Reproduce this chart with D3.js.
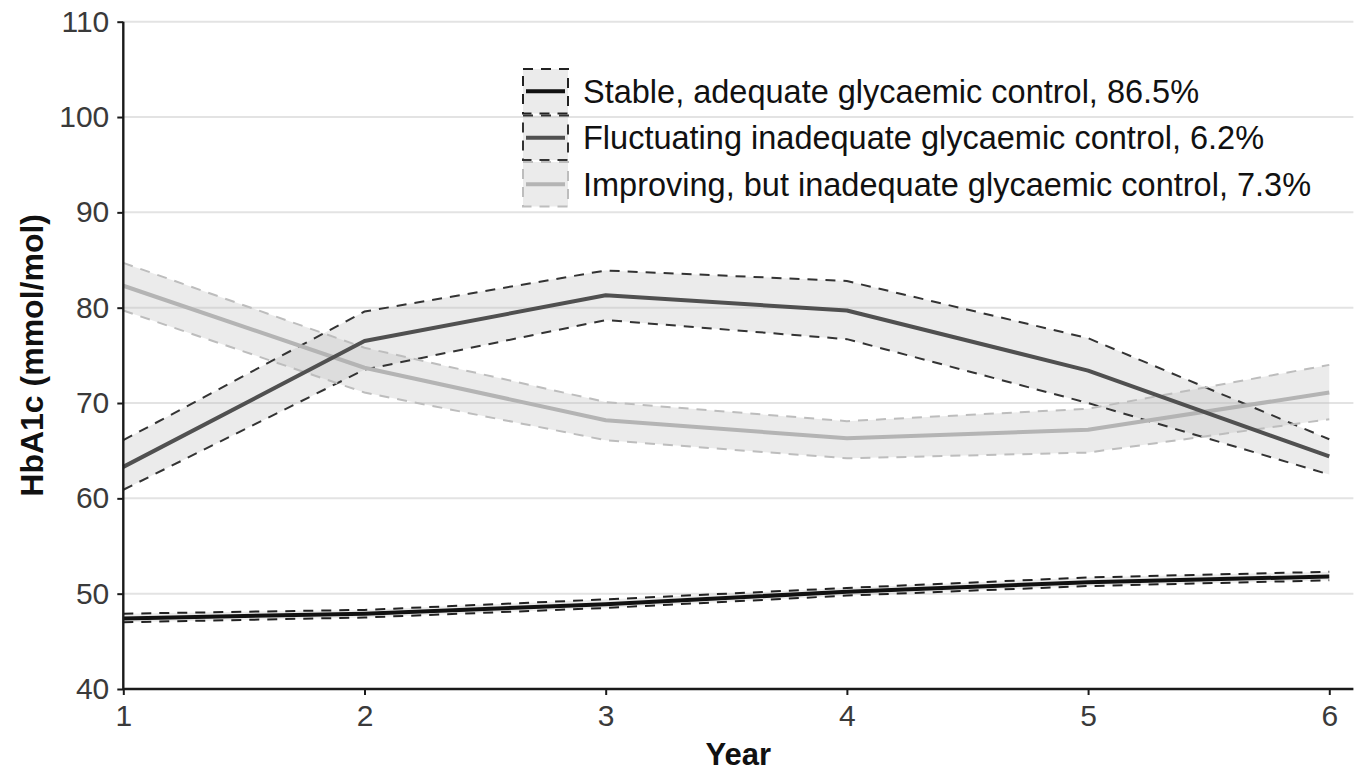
<!DOCTYPE html>
<html>
<head>
<meta charset="utf-8">
<script src="https://cdn.jsdelivr.net/npm/d3@7"></script>
<style>
  html, body { margin: 0; padding: 0; background: #fff; }
  svg { display: block; font-family: "Liberation Sans", Arial, sans-serif; }
</style>
</head>
<body>
<svg id="chart" width="1361" height="771"></svg>
<script>
// ---- data ----
const years = [1, 2, 3, 4, 5, 6];
const yTicks = [40, 50, 60, 70, 80, 90, 100, 110];
const xTicks = [1, 2, 3, 4, 5, 6];

const seriesNames = [
  "Stable, adequate glycaemic control, 86.5%",
  "Fluctuating inadequate glycaemic control, 6.2%",
  "Improving, but inadequate glycaemic control, 7.3%"
];
const stableMean  = [47.4, 47.9, 48.9, 50.2, 51.2, 51.8];
const stableLower = [47.0, 47.5, 48.5, 49.8, 50.8, 51.4];
const stableUpper = [47.9, 48.3, 49.4, 50.6, 51.7, 52.3];

const fluctMean  = [63.3, 76.5, 81.3, 79.7, 73.4, 64.4];
const fluctLower = [60.9, 73.5, 78.7, 76.7, 70.0, 62.5];
const fluctUpper = [66.1, 79.6, 83.9, 82.8, 76.8, 66.2];

const improvMean  = [82.3, 73.7, 68.2, 66.3, 67.2, 71.1];
const improvLower = [79.7, 71.1, 66.1, 64.2, 64.8, 68.3];
const improvUpper = [84.7, 75.8, 70.1, 68.1, 69.4, 74.0];

// ---- styles ----
const lineColors = ["#111111", "#505050", "#b4b4b4"];
const dashColors = ["#222222", "#333333", "#bdbdbd"];

const series = [
  { name: seriesNames[0], mean: stableMean, lower: stableLower, upper: stableUpper },
  { name: seriesNames[1], mean: fluctMean,  lower: fluctLower,  upper: fluctUpper },
  { name: seriesNames[2], mean: improvMean, lower: improvLower, upper: improvUpper }
].map((s, i) => ({ ...s, line: lineColors[i], dash: dashColors[i],
  pts: years.map((yr, j) => ({ x: yr, m: s.mean[j], lo: s.lower[j], hi: s.upper[j] })) }));

const svg = d3.select("#chart");
const pLeft = 123.3, pRight = 1353.4, pTop = 21.7, pBottom = 689;
const x = d3.scaleLinear().domain([1, 6.1]).range([pLeft, pRight]);
const y = d3.scaleLinear().domain([40, 110]).range([pBottom, pTop]);

// gridlines
svg.append("g").selectAll("line").data(yTicks.filter(v => v > 40)).join("line")
  .attr("x1", pLeft).attr("x2", pRight)
  .attr("y1", d => y(d)).attr("y2", d => y(d))
  .attr("stroke", "#e3e3e3").attr("stroke-width", 2);

// ribbons
const area = d3.area().x(d => x(d.x)).y0(d => y(d.lo)).y1(d => y(d.hi));
svg.append("g").selectAll("path").data(series).join("path")
  .attr("d", d => area(d.pts))
  .attr("fill", "#bdbdbd").attr("fill-opacity", 0.3);

// CI dashed lines
const gDash = svg.append("g");
series.forEach(s => {
  ["lo", "hi"].forEach(k => {
    gDash.append("path")
      .attr("d", d3.line().x(d => x(d.x)).y(d => y(d[k]))(s.pts))
      .attr("fill", "none").attr("stroke", s.dash)
      .attr("stroke-width", 2).attr("stroke-dasharray", "10,8");
  });
});

// mean lines (improving first, then fluctuating, then stable)
const meanLine = d3.line().x(d => x(d.x)).y(d => y(d.m));
[2, 1, 0].forEach(i => {
  svg.append("path").attr("d", meanLine(series[i].pts))
    .attr("fill", "none").attr("stroke", series[i].line)
    .attr("stroke-width", 4).attr("stroke-linejoin", "round");
});

// axes
const xAxis = svg.append("g").attr("transform", `translate(0,${pBottom})`)
  .call(d3.axisBottom(x).tickValues(xTicks).tickSize(6).tickPadding(10).tickFormat(d3.format("d")));
const yAxis = svg.append("g").attr("transform", `translate(${pLeft},0)`)
  .call(d3.axisLeft(y).tickValues(yTicks).tickSize(6).tickPadding(8));
[xAxis, yAxis].forEach(a => {
  a.select(".domain").attr("stroke", "#1a1a1a").attr("stroke-width", 2.4);
  a.selectAll(".tick line").attr("stroke", "#1a1a1a").attr("stroke-width", 2);
  a.selectAll(".tick text").attr("fill", "#3a3a3a")
    .style("font-size", "30px").style("font-family", "Liberation Sans, Arial, sans-serif");
});
xAxis.select(".domain").attr("d", `M${pLeft},0H${pRight}`);
yAxis.select(".domain").attr("d", `M0,${y(110)}V${pBottom}`);

// axis titles
svg.append("text").attr("x", (pLeft + x(6)) / 2 + 12).attr("y", 765)
  .attr("text-anchor", "middle").attr("font-weight", "bold")
  .style("font-size", "31px").attr("fill", "#111").text("Year");
svg.append("text").attr("transform", `translate(43,${(pTop + pBottom) / 2}) rotate(-90)`)
  .attr("text-anchor", "middle").attr("font-weight", "bold")
  .style("font-size", "32px").attr("fill", "#111").text("HbA1c (mmol/mol)");

// legend
const legX = 523, legY0 = 68, keyW = 45, keyH = 46.5;
const leg = svg.append("g");
series.forEach((s, i) => {
  const ky = legY0 + i * keyH;
  leg.append("rect").attr("x", legX).attr("y", ky + 1).attr("width", keyW).attr("height", keyH - 2)
    .attr("fill", "#bdbdbd").attr("fill-opacity", 0.3)
    .attr("stroke", s.dash).attr("stroke-width", 2).attr("stroke-dasharray", "10,8");
  leg.append("line").attr("x1", legX + 3).attr("x2", legX + keyW - 3)
    .attr("y1", ky + keyH / 2).attr("y2", ky + keyH / 2)
    .attr("stroke", s.line).attr("stroke-width", 4);
  leg.append("text").attr("x", 583).attr("y", ky + keyH / 2 + 11.5)
    .style("font-size", "32.5px").attr("fill", "#111").text(s.name);
});
</script>
</body>
</html>
